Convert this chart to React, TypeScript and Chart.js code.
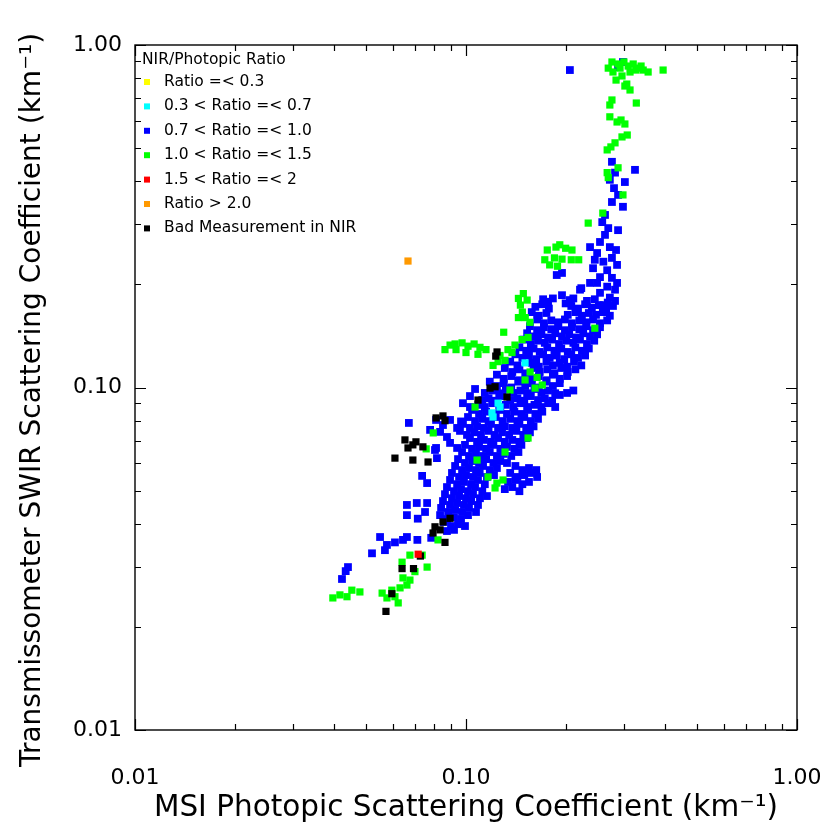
import React, { useEffect, useRef } from 'react';
import { Chart, registerables } from 'chart.js';

Chart.register(...registerables);

// ---------- axis ticks ----------
const xTickValues = [0.01, 0.02, 0.03, 0.04, 0.05, 0.06, 0.07, 0.08, 0.09, 0.1, 0.2, 0.3, 0.4, 0.5, 0.6, 0.7, 0.8, 0.9, 1.0];
const yTickValues = [0.01, 0.02, 0.03, 0.04, 0.05, 0.06, 0.07, 0.08, 0.09, 0.1, 0.2, 0.3, 0.4, 0.5, 0.6, 0.7, 0.8, 0.9, 1.0];
const majorTickValues = [0.01, 0.1, 1.0];
const majorTickLabels = ['0.01', '0.10', '1.00'];

const xTitle = 'MSI Photopic Scattering Coefficient (km\u207B\u00B9)';
const yTitle = 'Transmissometer SWIR Scattering Coefficient (km\u207B\u00B9)';

// ---------- legend ----------
const legendTitle = 'NIR/Photopic Ratio';
const categories = [
  'Ratio =< 0.3',
  '0.3 < Ratio =< 0.7',
  '0.7 < Ratio =< 1.0',
  '1.0 < Ratio =< 1.5',
  '1.5 < Ratio =< 2',
  'Ratio > 2.0',
  'Bad Measurement in NIR',
];
const categoryColors = ['#ffff00', '#00ffff', '#0000ff', '#00ff00', '#ff0000', '#ff9900', '#000000'];
const markerRadius = [5.1, 5.1, 5.5, 5.1, 5.1, 5.1, 5.1];

// ---------- data: [MSI photopic, SWIR] (km^-1) ----------
const ratioBelow03: [number, number][] = [];

const ratio03to07: [number, number][] = [
  [0.1508, 0.118], [0.1198, 0.0843], [0.125, 0.090], [0.1267, 0.0877], [0.1207, 0.082],
];

const ratio07to10: [number, number][] = [
  [0.206, 0.845], [0.288, 0.862], [0.298, 0.892],
  [0.276, 0.456], [0.282, 0.424], [0.272, 0.404], [0.324, 0.432], [0.302, 0.398], [0.288, 0.365], [0.276, 0.348], [0.280, 0.382], [0.298, 0.337],
  [0.258, 0.304], [0.269, 0.292], [0.288, 0.288], [0.263, 0.319],
  [0.254, 0.266], [0.237, 0.257], [0.272, 0.257], [0.249, 0.247], [0.276, 0.239], [0.260, 0.233], [0.242, 0.223], [0.267, 0.220], [0.254, 0.210], [0.276, 0.209], [0.237, 0.202], [0.249, 0.202], [0.267, 0.197], [0.254, 0.189], [0.272, 0.183], [0.245, 0.181], [0.282, 0.193], [0.286, 0.228], [0.284, 0.252], [0.263, 0.279], [0.245, 0.236], [0.260, 0.174],
  [0.188, 0.213], [0.195, 0.216],
  [0.221, 0.193], [0.206, 0.180], [0.183, 0.182], [0.171, 0.181], [0.195, 0.186], [0.223, 0.195], [0.286, 0.202],
  [0.177, 0.178], [0.200, 0.176], [0.211, 0.182], [0.232, 0.179], [0.282, 0.179], [0.268, 0.177],
  [0.162, 0.172], [0.170, 0.175], [0.178, 0.170], [0.208, 0.173], [0.218, 0.170], [0.229, 0.175], [0.240, 0.171], [0.252, 0.174], [0.265, 0.170], [0.278, 0.173],
  [0.158, 0.166], [0.166, 0.162], [0.175, 0.165], [0.203, 0.163], [0.214, 0.166], [0.224, 0.162], [0.235, 0.165], [0.247, 0.163], [0.259, 0.166], [0.272, 0.162],
  [0.164, 0.158], [0.172, 0.154], [0.181, 0.157], [0.190, 0.155], [0.199, 0.158], [0.209, 0.154], [0.220, 0.157], [0.231, 0.155], [0.242, 0.158], [0.254, 0.154], [0.267, 0.157],
  [0.156, 0.151], [0.164, 0.147], [0.172, 0.150], [0.181, 0.148], [0.190, 0.151], [0.199, 0.147], [0.209, 0.150], [0.220, 0.148], [0.231, 0.151], [0.242, 0.147], [0.254, 0.150],
  [0.153, 0.144], [0.161, 0.141], [0.169, 0.143], [0.177, 0.140], [0.186, 0.144], [0.195, 0.141], [0.205, 0.143], [0.215, 0.140], [0.226, 0.144], [0.237, 0.141], [0.249, 0.143],
  [0.149, 0.138], [0.157, 0.134], [0.165, 0.137], [0.173, 0.135], [0.182, 0.138], [0.191, 0.134], [0.201, 0.137], [0.211, 0.135], [0.221, 0.138], [0.232, 0.134], [0.244, 0.137],
  [0.145, 0.131], [0.152, 0.128], [0.160, 0.130], [0.167, 0.127], [0.176, 0.131], [0.185, 0.128], [0.194, 0.130], [0.203, 0.127], [0.214, 0.131], [0.224, 0.128], [0.235, 0.130],
  [0.141, 0.125], [0.148, 0.122], [0.155, 0.124], [0.163, 0.121], [0.171, 0.125], [0.179, 0.122], [0.188, 0.124], [0.198, 0.121], [0.208, 0.125], [0.218, 0.122], [0.229, 0.124],
  [0.136, 0.119], [0.143, 0.116], [0.158, 0.118], [0.166, 0.115], [0.175, 0.119], [0.183, 0.116], [0.192, 0.118], [0.202, 0.115], [0.212, 0.119], [0.223, 0.116],
  [0.131, 0.114], [0.138, 0.111], [0.145, 0.113], [0.152, 0.110], [0.160, 0.114], [0.167, 0.111], [0.176, 0.113], [0.185, 0.110], [0.194, 0.114], [0.203, 0.111], [0.214, 0.113],
  [0.124, 0.109], [0.130, 0.106], [0.137, 0.108], [0.144, 0.105], [0.151, 0.109], [0.158, 0.106], [0.166, 0.108], [0.175, 0.105], [0.183, 0.109], [0.192, 0.106], [0.202, 0.108],
  [0.118, 0.104], [0.124, 0.101], [0.130, 0.103], [0.137, 0.100], [0.144, 0.104], [0.151, 0.101], [0.158, 0.103], [0.166, 0.100], [0.175, 0.104], [0.183, 0.101], [0.192, 0.103], [0.211, 0.098],
  [0.1065, 0.099], [0.114, 0.0964], [0.120, 0.098], [0.126, 0.0962], [0.132, 0.099], [0.139, 0.0964], [0.146, 0.098], [0.153, 0.0962], [0.161, 0.099], [0.169, 0.0964], [0.177, 0.098], [0.186, 0.0962],
  [0.192, 0.0951], [0.202, 0.0964],
  [0.1028, 0.0944], [0.112, 0.0919], [0.117, 0.093], [0.123, 0.0915], [0.129, 0.0944], [0.136, 0.0919], [0.143, 0.093], [0.150, 0.0915], [0.157, 0.0944], [0.165, 0.0919], [0.173, 0.093], [0.182, 0.0915],
  [0.0979, 0.090], [0.1028, 0.0877], [0.109, 0.089], [0.114, 0.0877], [0.120, 0.090], [0.126, 0.0877], [0.132, 0.089], [0.139, 0.0877], [0.146, 0.090], [0.153, 0.0877], [0.161, 0.089], [0.169, 0.0877], [0.177, 0.090], [0.186, 0.0877],
  [0.1043, 0.086], [0.1095, 0.0837], [0.115, 0.085], [0.121, 0.0837], [0.127, 0.086], [0.133, 0.0837], [0.140, 0.085], [0.147, 0.0837], [0.154, 0.086], [0.162, 0.0837], [0.170, 0.085],
  [0.1014, 0.082], [0.1065, 0.0798], [0.112, 0.081], [0.117, 0.0798], [0.123, 0.082], [0.129, 0.0798], [0.136, 0.081], [0.143, 0.0798], [0.150, 0.082], [0.157, 0.0798], [0.165, 0.081],
  [0.0979, 0.0783], [0.1028, 0.0762], [0.108, 0.077], [0.1133, 0.0762], [0.119, 0.0783], [0.125, 0.0762], [0.131, 0.077], [0.138, 0.0762], [0.145, 0.0783], [0.152, 0.0762], [0.160, 0.077],
  [0.0959, 0.0747], [0.1007, 0.0727], [0.106, 0.074], [0.111, 0.0727], [0.117, 0.0747], [0.122, 0.0727], [0.1285, 0.074], [0.135, 0.0727], [0.142, 0.0747], [0.149, 0.0727], [0.156, 0.074],
  [0.1028, 0.0712], [0.108, 0.0694], [0.1133, 0.0703], [0.119, 0.0694], [0.125, 0.0712], [0.131, 0.0694], [0.138, 0.0703], [0.145, 0.0694], [0.152, 0.0712],
  [0.0993, 0.068], [0.1043, 0.0662], [0.1095, 0.0671], [0.115, 0.0662], [0.121, 0.068], [0.127, 0.0662], [0.133, 0.0671], [0.140, 0.0662], [0.147, 0.068],
  [0.0973, 0.0648], [0.1021, 0.0631], [0.1072, 0.064], [0.1126, 0.0631], [0.118, 0.0648], [0.124, 0.0631], [0.130, 0.064], [0.137, 0.0631], [0.144, 0.0648],
  [0.0946, 0.0618], [0.0993, 0.0602], [0.1043, 0.061], [0.1095, 0.0602], [0.115, 0.0618], [0.121, 0.0602], [0.127, 0.061], [0.133, 0.0602],
  [0.0927, 0.059], [0.0973, 0.0574], [0.1021, 0.0582], [0.1072, 0.0574], [0.1126, 0.059], [0.118, 0.0574], [0.124, 0.0582], [0.141, 0.059], [0.148, 0.0574], [0.155, 0.0582], [0.163, 0.0574],
  [0.0907, 0.0563], [0.0953, 0.0548], [0.100, 0.0555], [0.105, 0.0548], [0.110, 0.0563], [0.1157, 0.0548], [0.1215, 0.0555], [0.136, 0.0563], [0.143, 0.0548], [0.150, 0.0555], [0.157, 0.0563], [0.164, 0.0548],
  [0.0895, 0.0537], [0.094, 0.0522], [0.0986, 0.053], [0.1036, 0.0522], [0.1087, 0.0537], [0.114, 0.0522], [0.134, 0.053], [0.141, 0.0537], [0.148, 0.0522], [0.155, 0.053],
  [0.0876, 0.0512], [0.092, 0.0498], [0.0966, 0.0505], [0.1014, 0.0498], [0.1065, 0.0512], [0.112, 0.0498], [0.131, 0.0505], [0.138, 0.0512], [0.145, 0.0498],
  [0.0864, 0.0488], [0.0907, 0.0475], [0.0953, 0.0482], [0.100, 0.0475], [0.105, 0.0488], [0.1102, 0.0475], [0.1157, 0.0482],
  [0.0852, 0.0466], [0.0895, 0.0454], [0.094, 0.046], [0.0986, 0.0454], [0.1036, 0.0466], [0.1087, 0.0454],
  [0.0841, 0.0445], [0.0883, 0.0433], [0.0927, 0.0439], [0.0973, 0.0433], [0.1021, 0.0445], [0.1072, 0.0433],
  [0.0835, 0.0424], [0.0876, 0.0413], [0.092, 0.0418], [0.0966, 0.0413], [0.1014, 0.0424],
  [0.0858, 0.0405], [0.0901, 0.0394], [0.0946, 0.0399], [0.0993, 0.0394],
  [0.0876, 0.0381], [0.092, 0.0384],
  [0.0812, 0.0804], [0.0852, 0.0777], [0.0895, 0.0804], [0.094, 0.0762], [0.0835, 0.0742], [0.0876, 0.0717],
  [0.0895, 0.0689], [0.094, 0.0666], [0.0672, 0.0788], [0.0966, 0.0796], [0.0812, 0.0666], [0.0817, 0.0622],
  [0.0779, 0.0752], [0.0806, 0.0657],
  [0.0737, 0.0552], [0.0763, 0.0526],
  [0.0663, 0.0454], [0.0710, 0.0460], [0.0763, 0.0460], [0.0663, 0.0424], [0.0715, 0.0414], [0.0752, 0.0433],
  [0.055, 0.0366], [0.0577, 0.0347], [0.061, 0.0353], [0.0645, 0.0359], [0.0663, 0.0366], [0.0569, 0.0335],
  [0.052, 0.0328], [0.0713, 0.0359], [0.0785, 0.0364],
  [0.0440, 0.0299], [0.0433, 0.0291], [0.0422, 0.0276],
];

const ratio10to15: [number, number][] = [
  [0.269, 0.856], [0.278, 0.834], [0.288, 0.880], [0.300, 0.892], [0.309, 0.868], [0.320, 0.880], [0.331, 0.856], [0.343, 0.845], [0.355, 0.834], [0.313, 0.834],
  [0.296, 0.812], [0.284, 0.790], [0.302, 0.759], [0.313, 0.739], [0.306, 0.769], [0.394, 0.845], [0.276, 0.892], [0.326, 0.845], [0.338, 0.868], [0.292, 0.856],
  [0.272, 0.668], [0.276, 0.691], [0.327, 0.677], [0.272, 0.617], [0.286, 0.596], [0.302, 0.588], [0.294, 0.604], [0.296, 0.539], [0.307, 0.546], [0.282, 0.518],
  [0.267, 0.494], [0.274, 0.504], [0.267, 0.424], [0.288, 0.438], [0.269, 0.410], [0.298, 0.365],
  [0.259, 0.323], [0.234, 0.302],
  [0.176, 0.252], [0.187, 0.257], [0.200, 0.255], [0.209, 0.252], [0.173, 0.236], [0.185, 0.239], [0.195, 0.237], [0.208, 0.236], [0.219, 0.236], [0.179, 0.228], [0.189, 0.226], [0.192, 0.261],
  [0.144, 0.182], [0.146, 0.174], [0.148, 0.166], [0.151, 0.160], [0.156, 0.155], [0.153, 0.180], [0.144, 0.160], [0.149, 0.188],
  [0.130, 0.145], [0.245, 0.149],
  [0.0864, 0.129], [0.0895, 0.133], [0.0927, 0.134], [0.0973, 0.135], [0.1014, 0.132], [0.1058, 0.134], [0.1102, 0.131], [0.1149, 0.129], [0.1000, 0.1265], [0.1087, 0.125], [0.0933, 0.129],
  [0.1267, 0.124], [0.1339, 0.129], [0.1406, 0.133], [0.1477, 0.138], [0.154, 0.140], [0.125, 0.119], [0.1312, 0.120], [0.1377, 0.1265], [0.1207, 0.116],
  [0.1562, 0.111], [0.164, 0.107], [0.170, 0.1017], [0.1617, 0.0996], [0.1508, 0.1052],
  [0.1358, 0.0983], [0.1065, 0.0877],
  [0.0796, 0.0737], [0.0758, 0.0662],
  [0.108, 0.0614], [0.1312, 0.0648], [0.154, 0.0712], [0.1294, 0.0537], [0.1224, 0.0509], [0.1166, 0.0548], [0.124, 0.0526],
  [0.0823, 0.0359],
  [0.0677, 0.0324], [0.0737, 0.0324], [0.0641, 0.0309], [0.0763, 0.0299], [0.0645, 0.0278], [0.0677, 0.0274], [0.0632, 0.0260], [0.0558, 0.0251], [0.0577, 0.0243], [0.061, 0.0245],
  [0.0701, 0.0290], [0.0663, 0.0265], [0.0597, 0.0256], [0.0624, 0.0235],
  [0.0396, 0.0243], [0.0437, 0.0245], [0.0452, 0.0256], [0.0478, 0.0253], [0.0416, 0.0248],
];

const ratio15to2: [number, number][] = [[0.0717, 0.0326]];

const ratioAbove2: [number, number][] = [[0.0668, 0.234]];

const badNIR: [number, number][] = [
  [0.1241, 0.127], [0.123, 0.1235],
  [0.1182, 0.0996], [0.1224, 0.1005], [0.133, 0.0938], [0.1087, 0.0919],
  [0.0812, 0.0815], [0.0852, 0.0826], [0.0864, 0.080],
  [0.0654, 0.0703], [0.0691, 0.068], [0.0668, 0.0666], [0.0706, 0.0694], [0.0741, 0.0671],
  [0.061, 0.0622], [0.0691, 0.0614], [0.0768, 0.0606],
  [0.0806, 0.0392], [0.0835, 0.0384], [0.0852, 0.0405], [0.0795, 0.0376], [0.0864, 0.0353], [0.0895, 0.0415],
  [0.0728, 0.0322], [0.0641, 0.0296], [0.0694, 0.0296], [0.0597, 0.0250], [0.0573, 0.0222],
];

const seriesData = [ratioBelow03, ratio03to07, ratio07to10, ratio10to15, ratio15to2, ratioAbove2, badNIR];
const drawOrder = [1, 2, 9, 5, 1, 1, 3];

const FONT = 'DejaVu Sans';

const framePlugin = {
  id: 'idlFrame',
  afterDatasetsDraw(chart: any) {
    const { ctx, chartArea, scales } = chart;
    const { left, right, top, bottom } = chartArea;
    const xs = scales.x;
    const ys = scales.y;
    ctx.save();
    ctx.strokeStyle = '#000';
    ctx.lineWidth = 1.4;
    ctx.strokeRect(left, top, right - left, bottom - top);
    ctx.lineWidth = 1.2;
    ctx.beginPath();
    xTickValues.forEach((v) => {
      const px = Math.round(xs.getPixelForValue(v)) + 0.5;
      const len = majorTickValues.includes(v) ? 11 : 6;
      ctx.moveTo(px, bottom);
      ctx.lineTo(px, bottom - len);
      ctx.moveTo(px, top);
      ctx.lineTo(px, top + len);
    });
    yTickValues.forEach((v) => {
      const py = Math.round(ys.getPixelForValue(v)) + 0.5;
      const len = majorTickValues.includes(v) ? 11 : 6;
      ctx.moveTo(left, py);
      ctx.lineTo(left + len, py);
      ctx.moveTo(right, py);
      ctx.lineTo(right - len, py);
    });
    ctx.stroke();

    // legend
    ctx.fillStyle = '#000';
    ctx.font = `15.5px "${FONT}"`;
    ctx.textBaseline = 'middle';
    ctx.textAlign = 'left';
    ctx.fillText(legendTitle, left + 7, top + 15);
    categories.forEach((label, i) => {
      const cy = top + 37 + i * 24.4;
      ctx.fillStyle = categoryColors[i];
      ctx.fillRect(left + 9, cy - 3, 6, 6);
      ctx.fillStyle = '#000';
      ctx.fillText(label, left + 29, cy);
    });

    // y-axis title
    ctx.save();
    ctx.translate(33, 400);
    ctx.rotate(-Math.PI / 2);
    ctx.font = `28px "${FONT}"`;
    ctx.textAlign = 'center';
    ctx.textBaseline = 'middle';
    ctx.fillText(yTitle, 0, 0);
    ctx.restore();
    ctx.restore();
  },
};

function tickLabel(value: number) {
  const idx = majorTickValues.findIndex((m) => Math.abs(m - value) < 1e-9);
  return idx >= 0 ? majorTickLabels[idx] : '';
}

export default function App() {
  const canvasRef = useRef<HTMLCanvasElement | null>(null);

  useEffect(() => {
    document.body.style.margin = '0';
    const canvas = canvasRef.current;
    if (!canvas) return;
    const chart = new Chart(canvas, {
      type: 'scatter',
      data: {
        datasets: seriesData.map((pts, i) => ({
          label: categories[i],
          data: pts.map(([x, y]) => ({ x, y })),
          backgroundColor: categoryColors[i],
          borderColor: categoryColors[i],
          borderWidth: 0,
          pointStyle: 'rect',
          pointRadius: markerRadius[i],
          pointHoverRadius: markerRadius[i],
          order: drawOrder[i],
        })),
      },
      options: {
        responsive: false,
        animation: false,
        devicePixelRatio: 1,
        layout: { padding: { top: 45, right: 33, left: 0, bottom: 0 } },
        plugins: { legend: { display: false }, tooltip: { enabled: false }, title: { display: false } },
        scales: {
          x: {
            type: 'logarithmic',
            min: 0.01,
            max: 1,
            grid: { display: false, drawTicks: false },
            border: { display: false },
            afterBuildTicks: (scale: any) => {
              scale.ticks = xTickValues.map((v) => ({ value: v }));
            },
            afterFit: (scale: any) => {
              scale.height = 102;
              scale.paddingLeft = 0;
              scale.paddingRight = 0;
            },
            ticks: {
              autoSkip: false,
              maxRotation: 0,
              minRotation: 0,
              padding: 35,
              color: '#000',
              font: { family: FONT, size: 22 },
              callback: (value: any) => tickLabel(Number(value)),
            },
            title: {
              display: true,
              text: xTitle,
              color: '#000',
              font: { family: FONT, size: 29.5 },
              padding: { top: 0, bottom: 6 },
            },
          },
          y: {
            type: 'logarithmic',
            min: 0.01,
            max: 1,
            grid: { display: false, drawTicks: false },
            border: { display: false },
            afterBuildTicks: (scale: any) => {
              scale.ticks = yTickValues.map((v) => ({ value: v }));
            },
            afterFit: (scale: any) => {
              scale.width = 135;
              scale.paddingTop = 0;
              scale.paddingBottom = 0;
            },
            ticks: {
              autoSkip: false,
              padding: 13,
              color: '#000',
              font: { family: FONT, size: 22 },
              callback: (value: any) => tickLabel(Number(value)),
            },
            title: { display: false },
          },
        },
      },
      plugins: [framePlugin],
    });
    return () => chart.destroy();
  }, []);

  return (
    <div style={{ width: 830, height: 832, background: '#fff' }}>
      <canvas ref={canvasRef} width={830} height={832} style={{ display: 'block' }} />
    </div>
  );
}
